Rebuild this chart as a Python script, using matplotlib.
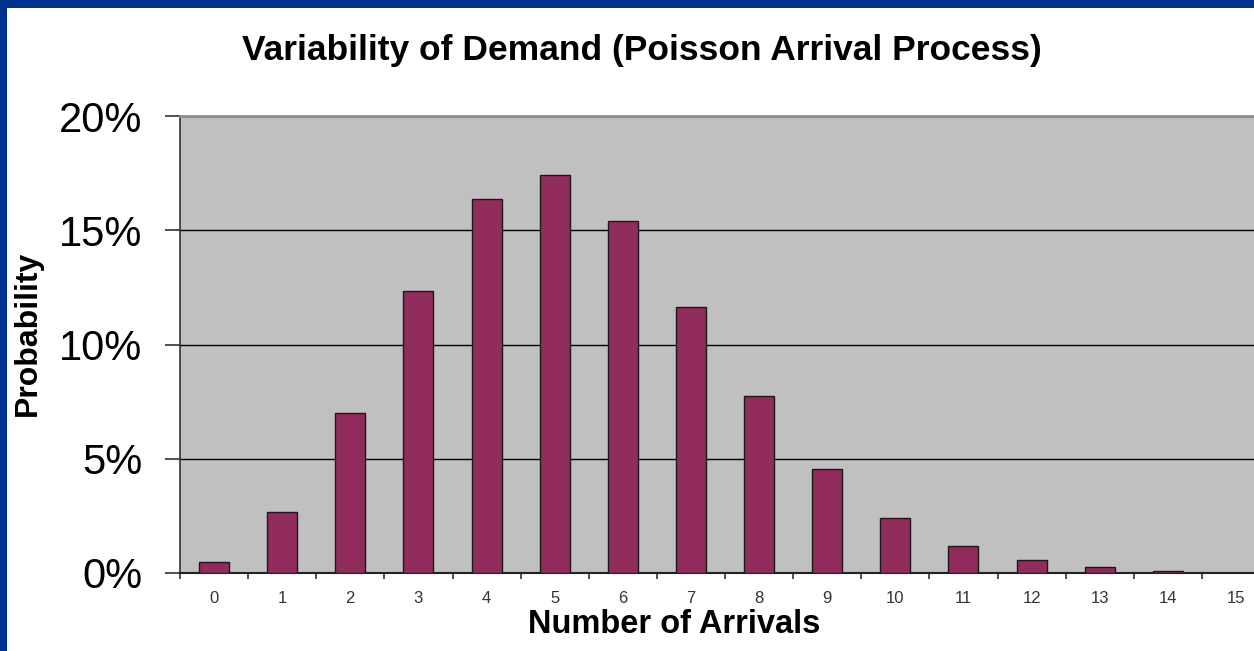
import matplotlib
matplotlib.use("Agg")
import matplotlib.pyplot as plt
from matplotlib.patches import Rectangle
from matplotlib.ticker import FuncFormatter, FixedLocator
import numpy as np

# Poisson arrival probabilities (in percent) read per number of arrivals
arrivals = list(range(16))
probability_pct = [0.5, 2.65, 7.0, 12.35, 16.35, 17.4, 15.4, 11.65,
                   7.75, 4.55, 2.4, 1.2, 0.55, 0.25, 0.1, 0.0]
y_ticks = [0, 5, 10, 15, 20]

W, H = 1254, 651
fig = plt.figure(figsize=(W / 100, H / 100), dpi=100)
fig.patch.set_facecolor("white")

# slide border (blue strips on top and left)
fig.patches.append(Rectangle((0, 1 - 8 / H), 1, 8 / H, transform=fig.transFigure,
                             facecolor="#00338F", edgecolor="none", zorder=0))
fig.patches.append(Rectangle((0, 0), 7 / W, 1, transform=fig.transFigure,
                             facecolor="#00338F", edgecolor="none", zorder=0))

ax = fig.add_axes([180 / W, 78 / H, 1090 / W, 457 / H])
ax.set_facecolor("#C0C0C0")

ax.bar(arrivals, probability_pct, width=0.44, color="#902B5C",
       edgecolor="#1a1a1a", linewidth=1.0, zorder=3)

ax.set_xlim(-0.5, 15.5)
ax.set_ylim(0, 20)

ax.yaxis.set_major_locator(FixedLocator(y_ticks))
ax.yaxis.set_major_formatter(FuncFormatter(lambda v, _: f"{v:.0f}%"))
ax.grid(axis="y", color="black", linewidth=1.0, zorder=1)

ax.set_xticks(arrivals)
ax.set_xticks(np.arange(-0.5, 16, 1), minor=True)
ax.tick_params(axis="x", which="major", length=0, pad=13, labelsize=12,
               labelcolor="#333333")
ax.tick_params(axis="x", which="minor", length=4, width=1.2, color="#333333",
               direction="out")
ax.tick_params(axis="y", length=11, width=1.2, color="#333333", pad=16,
               labelsize=30)
for lbl in ax.get_yticklabels() + ax.get_xticklabels():
    lbl.set_fontfamily("Liberation Sans")

ax.spines["top"].set_color("#8c8c8c")
ax.spines["top"].set_linewidth(2)
ax.spines["right"].set_visible(False)
ax.spines["left"].set_color("#333333")
ax.spines["left"].set_linewidth(1.2)
ax.spines["bottom"].set_color("#222222")
ax.spines["bottom"].set_linewidth(1.5)

fig.text(642 / W, 1 - 60 / H, "Variability of Demand (Poisson Arrival Process)",
         ha="center", va="baseline", fontsize=25.5, fontweight="bold",
         family="Liberation Sans")
fig.text(674 / W, 1 - 633 / H, "Number of Arrivals", ha="center", va="baseline",
         fontsize=23.5, fontweight="bold", family="Liberation Sans")
fig.text(28 / W, 1 - 333 / H, "Probability", ha="center", va="center",
         rotation=90, fontsize=23, fontweight="bold", family="Liberation Sans")

fig.savefig("out.png", dpi=100)
